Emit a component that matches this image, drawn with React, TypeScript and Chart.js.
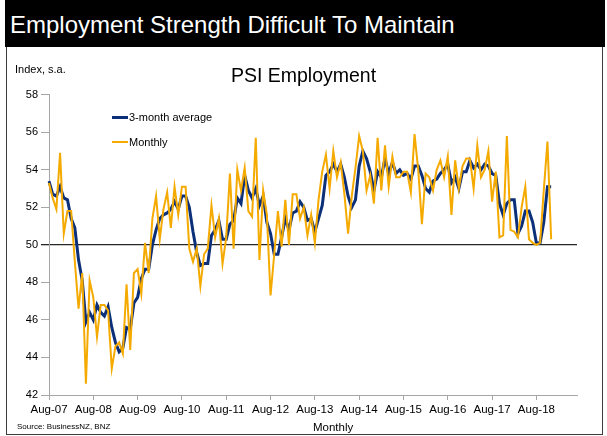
import React, { useEffect, useRef } from "react";
import { Chart, registerables } from "chart.js";

Chart.register(...registerables);

const MONTH_NAMES = ["Jan", "Feb", "Mar", "Apr", "May", "Jun", "Jul", "Aug", "Sep", "Oct", "Nov", "Dec"];
const START_YEAR = 2007;
const START_MONTH = 7; // August
const AXIS_MONTHS = 144; // Aug-07 .. Jul-19

const monthLabels: string[] = [];
for (let k = 0; k < AXIS_MONTHS; k++) {
  const m = (START_MONTH + k) % 12;
  const y = START_YEAR + Math.floor((START_MONTH + k) / 12);
  monthLabels.push(`${MONTH_NAMES[m]}-${String(y % 100).padStart(2, "0")}`);
}

const monthly = [
  53.3, 52.5, 51.9, 54.9, 50.6, 51.8, 51.8, 49.1, 46.6, 48.5,
  42.6, 48.1, 47.2, 45.1, 46.8, 46.8, 46.5, 43.4, 44.6, 44.8,
  44.2, 47.9, 44.4, 48.5, 48.7, 47.4, 50.1, 48.5, 51.4, 52.6,
  50.3, 51.9, 52.8, 50.9, 53.1, 51.6, 53.1, 53.1, 49.8, 49.1,
  49.8, 47.8, 49.5, 49.8, 52.1, 50.4, 51.4, 49.0, 50.4, 53.8,
  49.8, 54.0, 52.9, 54.1, 51.8, 51.5, 55.7, 49.2, 52.9, 51.6,
  47.3, 49.5, 51.8, 49.9, 52.4, 50.0, 52.7, 52.7, 51.4, 52.0,
  50.5, 51.6, 50.1, 52.4, 53.9, 54.8, 53.0, 55.0, 53.6, 54.4,
  52.7, 50.6, 52.6, 54.1, 55.8, 55.0, 52.9, 53.7, 52.2, 55.7,
  52.9, 55.3, 53.1, 54.7, 53.6, 53.6, 53.9, 53.9, 52.8, 55.9,
  54.0, 51.1, 53.8, 53.6, 52.9, 54.0, 54.5, 53.6, 54.7, 51.6,
  54.5, 53.0, 54.2, 54.6, 54.6, 53.0, 55.3, 53.6, 54.0, 55.0,
  52.3, 53.9, 50.4, 50.5, 55.8, 50.8, 50.7, 50.4, 52.0, 53.1,
  50.3, 50.1, 50.0, 50.1, 52.9, 55.5, 50.3,
];

const avg3 = [
  53.4, 52.7, 52.6, 53.1, 52.5, 52.4, 51.4, 50.9, 49.2, 48.1,
  45.9, 46.4, 46.0, 46.8, 46.4, 46.2, 46.7, 45.6, 44.8, 44.3,
  44.5, 45.6, 45.5, 46.9, 47.2, 48.2, 48.7, 48.7, 50.0, 50.8,
  51.4, 51.6, 51.7, 51.9, 52.3, 51.9, 52.6, 52.6, 52.0, 50.7,
  49.6, 48.9, 49.0, 49.0, 50.5, 50.8, 51.3, 50.3, 50.3, 51.1,
  51.3, 52.5, 52.2, 53.7, 52.9, 52.5, 53.0, 52.1, 52.6, 51.2,
  50.6, 49.5, 49.5, 50.4, 51.4, 50.8, 51.7, 51.8, 52.3, 52.0,
  51.3, 51.4, 50.7, 51.4, 52.1, 53.7, 53.9, 54.3, 53.9, 54.3,
  53.6, 52.6, 52.0, 52.4, 54.2, 55.0, 54.6, 53.9, 52.9, 53.9,
  53.6, 54.6, 53.8, 54.4, 53.8, 54.0, 53.7, 53.8, 53.5, 54.2,
  54.2, 53.7, 53.0, 52.8, 53.4, 53.5, 53.8, 54.0, 54.3, 53.3,
  53.6, 53.0, 53.9, 53.9, 54.5, 54.1, 54.3, 54.0, 54.3, 54.2,
  53.8, 53.7, 52.2, 51.6, 52.2, 52.4, 52.4, 50.6, 51.0, 51.8,
  51.8, 51.2, 50.1, 50.1, 51.2, 53.1, 53.1,
];

const Y_MIN = 42;
const Y_MAX = 58;
const Y_STEP = 2;
const REF_LINE = 50;

const NAVY = "#0b2f78";
const GOLD = "#f5aa00";
const AXIS_GREY = "#a6a6a6";
const FONT = "'Liberation Sans', Arial, Helvetica, sans-serif";

export default function App() {
  const canvasRef = useRef<HTMLCanvasElement | null>(null);

  useEffect(() => {
    const canvas = canvasRef.current;
    if (!canvas) return;
    const chart = new Chart(canvas, {
      type: "line",
      data: {
        labels: monthLabels,
        datasets: [
          {
            label: "3-month average",
            data: avg3,
            borderColor: NAVY,
            borderWidth: 3,
            pointRadius: 0,
            tension: 0,
            order: 2,
          },
          {
            label: "Monthly",
            data: monthly,
            borderColor: GOLD,
            borderWidth: 2,
            pointRadius: 0,
            tension: 0,
            order: 1,
          },
        ],
      },
      options: {
        animation: false,
        responsive: false,
        devicePixelRatio: 1,
        layout: { padding: { left: 0, right: 30, top: 94.7, bottom: 11 } },
        plugins: {
          legend: { display: false },
          tooltip: { enabled: false },
          title: { display: false },
        },
        scales: {
          x: {
            type: "category",
            offset: false,
            afterFit: (scale: any) => {
              scale.height = 30;
            },
            grid: {
              display: true,
              drawOnChartArea: false,
              drawTicks: true,
              tickLength: 5,
              color: AXIS_GREY,
              tickColor: AXIS_GREY,
            },
            border: { display: true, color: AXIS_GREY, width: 1 },
            ticks: {
              autoSkip: false,
              maxRotation: 0,
              minRotation: 0,
              padding: 3,
              color: "#000",
              font: { family: FONT, size: 11.5 },
              callback: (_v: any, idx: number) => (idx % 12 === 0 ? monthLabels[idx] : null),
            },
          },
          y: {
            min: Y_MIN,
            max: Y_MAX,
            afterFit: (scale: any) => {
              scale.width = 49;
            },
            grid: {
              display: true,
              drawOnChartArea: true,
              drawTicks: true,
              tickLength: 8,
              color: (ctx: any) => (ctx.tick && ctx.tick.value === REF_LINE ? "#262626" : "rgba(0,0,0,0)"),
              tickColor: (ctx: any) => (ctx.tick && ctx.tick.value === REF_LINE ? "#262626" : AXIS_GREY),
              lineWidth: (ctx: any) => (ctx.tick && ctx.tick.value === REF_LINE ? 1.3 : 1),
            },
            border: { display: true, color: AXIS_GREY, width: 1 },
            ticks: {
              stepSize: Y_STEP,
              padding: 3,
              color: "#000",
              font: { family: FONT, size: 11 },
            },
          },
        },
      },
    });
    return () => chart.destroy();
  }, []);

  const abs = (s: React.CSSProperties): React.CSSProperties => ({ position: "absolute", whiteSpace: "nowrap", ...s });

  return (
    <div style={abs({ left: 0, top: 0, width: 607, height: 436, background: "#fff", overflow: "hidden", fontFamily: FONT })}>
      <div style={abs({ left: 5, top: 0, width: 600, height: 47, background: "#000" })} />
      <div style={abs({ left: 10, top: 13, fontSize: 24, lineHeight: "24px", color: "#fff" })}>
        Employment Strength Difficult To Maintain
      </div>
      <div style={abs({ left: 6, top: 47, width: 597, height: 388, border: "1px solid #3c3c3c", borderTop: "none", boxSizing: "border-box" })} />
      <canvas ref={canvasRef} width={607} height={436} style={abs({ left: 0, top: 0, width: 607, height: 436 })} />
      <div style={abs({ left: 15, top: 63, fontSize: 11, lineHeight: "12px", color: "#000" })}>Index, s.a.</div>
      <div style={abs({ left: 0, width: 607, top: 65, fontSize: 19.5, lineHeight: "20px", color: "#000", textAlign: "center" })}>
        PSI Employment
      </div>
      <div style={abs({ left: 112, top: 115.5, width: 16, height: 3, background: NAVY })} />
      <div style={abs({ left: 129, top: 111, fontSize: 11, lineHeight: "12px", color: "#000" })}>3-month average</div>
      <div style={abs({ left: 112, top: 141, width: 16, height: 2, background: GOLD })} />
      <div style={abs({ left: 129, top: 136, fontSize: 11, lineHeight: "12px", color: "#000" })}>Monthly</div>
      <div style={abs({ left: 17, top: 422, fontSize: 8, lineHeight: "9px", color: "#000" })}>Source: BusinessNZ, BNZ</div>
      <div style={abs({ left: 313, top: 421, fontSize: 11.5, lineHeight: "12px", color: "#000" })}>Monthly</div>
    </div>
  );
}
